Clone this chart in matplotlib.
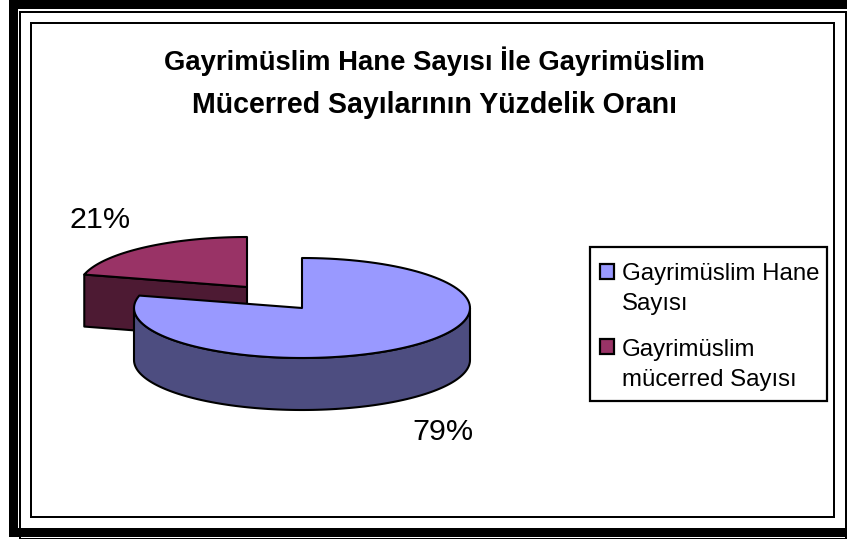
import numpy as np
import matplotlib
matplotlib.use("Agg")
import matplotlib.pyplot as plt
from matplotlib.patches import Polygon, Rectangle

categories = ["Gayrimüslim Hane\nSayısı", "Gayrimüslim\nmücerred Sayısı"]
values = [79, 21]
pct_labels = ["79%", "21%"]
title_lines = ["Gayrimüslim Hane Sayısı İle Gayrimüslim",
               "Mücerred Sayılarının Yüzdelik Oranı"]

W, H = 847, 539
plt.rcParams['font.family'] = ['Liberation Sans', 'DejaVu Sans']
fig = plt.figure(figsize=(W / 100, H / 100), dpi=100)
ax = fig.add_axes([0, 0, 1, 1])
ax.set_xlim(0, W)
ax.set_ylim(H, 0)
ax.axis('off')


def px(v):
    return v * 0.72


def frame(x0, y0, x1, y1, t):
    for r in [(x0, y0, x1 - x0, t), (x0, y1 - t, x1 - x0, t),
              (x0, y0, t, y1 - y0), (x1 - t, y0, t, y1 - y0)]:
        ax.add_patch(Rectangle((r[0], r[1]), r[2], r[3], fc='black', ec='none'))


frame(9, 0, 856, 537, 9)
frame(19, 11, 847, 540, 2)
frame(30, 22, 835, 518, 2)

for line, y, size in zip(title_lines, [61, 105], [27.5, 28.5]):
    ax.text(434, y, line, ha='center', va='center', fontsize=px(size),
            fontweight='bold', color='black')

RX, RY, DEPTH = 168, 50, 52
LW = 1.5
total = sum(values)
big_end = 360 * values[0] / total


def arc(cx, cy, a0, a1, n=120):
    t = np.radians(np.linspace(a0, a1, n))
    return np.column_stack([cx + RX * np.sin(t), cy - RY * np.cos(t)])


# exploded small slice (drawn behind)
cx2, cy2 = 247, 287
e = arc(cx2, cy2, big_end, big_end, 1)[0]
ax.add_patch(Polygon([(cx2, cy2), e, (e[0], e[1] + DEPTH), (cx2, cy2 + DEPTH)],
                     fc='#4D1A33', ec='black', lw=LW, joinstyle='round'))
top2 = np.vstack([[(cx2, cy2)], arc(cx2, cy2, big_end, 360)])
ax.add_patch(Polygon(top2, fc='#993366', ec='black', lw=LW, joinstyle='round'))

# large slice
cx1, cy1 = 302, 308
rim = arc(cx1, cy1, 90, 270)
side = np.vstack([rim, (rim + [0, DEPTH])[::-1]])
ax.add_patch(Polygon(side, fc='#4D4D80', ec='black', lw=LW, joinstyle='round'))
top1 = np.vstack([[(cx1, cy1)], arc(cx1, cy1, 0, big_end)])
ax.add_patch(Polygon(top1, fc='#9999FF', ec='black', lw=LW, joinstyle='round'))

# percentage labels
ax.text(443, 432, pct_labels[0], ha='center', va='center', fontsize=px(30.5), color='black')
ax.text(100, 220, pct_labels[1], ha='center', va='center', fontsize=px(30.5), color='black')

# legend
ax.add_patch(Rectangle((590, 247), 237, 154, fc='white', ec='black', lw=1.6))
swatches = ['#9999FF', '#993366']
for lab, col, sy, ty in zip(categories, swatches, [264, 339], [289, 365]):
    ax.add_patch(Rectangle((600, sy), 14, 15, fc=col, ec='black', lw=1.6))
    ax.text(622, ty, lab, ha='left', va='center', fontsize=px(24),
            color='black', linespacing=1.48)

fig.savefig('out.png', dpi=100)
